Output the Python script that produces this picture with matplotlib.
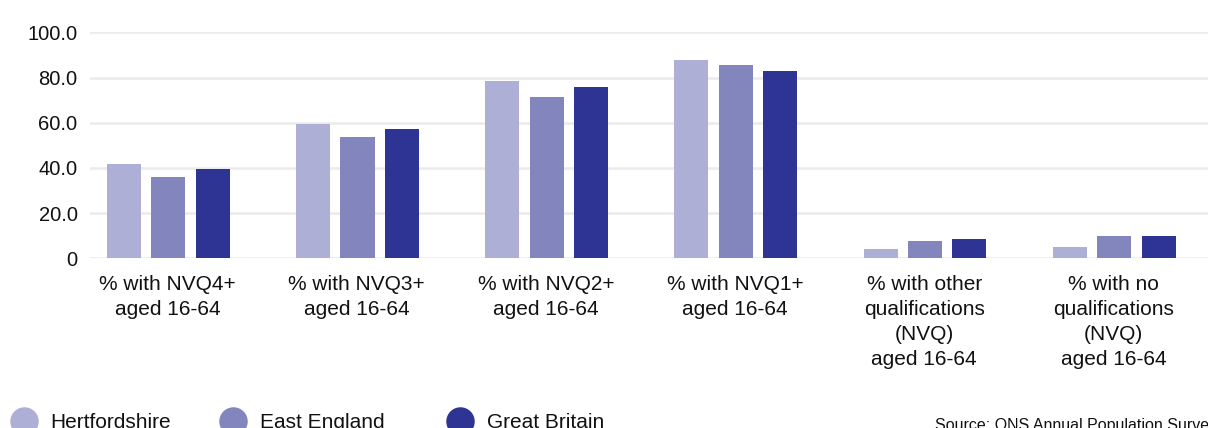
import matplotlib
matplotlib.use("Agg")
import matplotlib.pyplot as plt
from matplotlib.lines import Line2D
from matplotlib.ticker import FuncFormatter
import numpy as np

plt.rcParams['font.family'] = ['Liberation Sans', 'DejaVu Sans']

# Qualification levels, working-age population (%)
categories = [
    "% with NVQ4+\naged 16-64",
    "% with NVQ3+\naged 16-64",
    "% with NVQ2+\naged 16-64",
    "% with NVQ1+\naged 16-64",
    "% with other\nqualifications\n(NVQ)\naged 16-64",
    "% with no\nqualifications\n(NVQ)\naged 16-64",
]
series_names = ["Hertfordshire", "East England", "Great Britain"]
hertfordshire = [41.7, 59.4, 78.4, 87.7, 4.1, 5.0]
east_england = [36.0, 53.7, 71.4, 85.5, 7.6, 9.9]
great_britain = [39.5, 57.2, 75.8, 82.9, 8.5, 9.9]
y_ticks = [0, 20, 40, 60, 80, 100]
source_note = "Source: ONS Annual Population Survey"

colors = ["#adafd6", "#8286bd", "#2e3494"]
grid_color = "#ebebeb"

fig = plt.figure(figsize=(12.08, 4.28), dpi=100)
ax = fig.add_axes([90 / 1208, 1 - 258.3 / 428, 1 - 90 / 1208, (258.3 - 32.3) / 428])

x = np.arange(len(categories))
bar_w = 0.18
step = 0.235
for i, (vals, col) in enumerate(zip([hertfordshire, east_england, great_britain], colors)):
    ax.bar(x + (i - 1) * step + 0.004, vals, width=bar_w, color=col, zorder=3)

ax.set_ylim(0, 100)
ax.set_xlim(-0.41, len(categories) - 0.5)
ax.set_yticks(y_ticks)
ax.yaxis.set_major_formatter(FuncFormatter(lambda v, _: "0" if v == 0 else f"{v:.1f}"))
ax.grid(True, axis="y", color=grid_color, linewidth=1.8, zorder=0)
ax.set_axisbelow(True)
for s in ax.spines.values():
    s.set_visible(False)

ax.set_xticks(x)
ax.set_xticklabels(categories, fontsize=15, linespacing=1.41)
ax.tick_params(axis="x", length=0, pad=12)
ax.tick_params(axis="y", length=0, pad=9, labelsize=14.5)
for lbl in ax.get_yticklabels() + ax.get_xticklabels():
    lbl.set_color("#111111")

# Legend row along the bottom edge
legend_x = [23.5, 233, 460]
for name, col, px in zip(series_names, colors, legend_x):
    fig.add_artist(Line2D([px / 1208], [1 - 421 / 428], marker="o", markersize=19.5,
                          color=col, linestyle="none", transform=fig.transFigure))
    fig.text((px + 27) / 1208, 1 - 427.5 / 428, name, fontsize=15, ha="left",
             va="baseline", color="#111111")

fig.text(935 / 1208, 1 - 430 / 428, source_note, fontsize=11.5, ha="left",
         va="baseline", color="#111111")

fig.savefig("out.png", dpi=100)
